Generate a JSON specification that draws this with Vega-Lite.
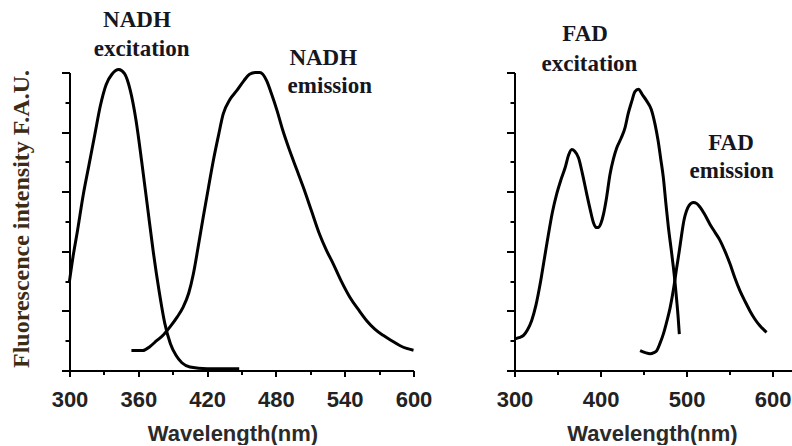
{
  "$schema": "https://vega.github.io/schema/vega-lite/v6.json",
  "padding": {"left": 8.5, "top": 8.5, "right": 0, "bottom": 0},
  "bounds": "flush",
  "spacing": 101,
  "background": "white",
  "config": {
    "view": {"stroke": null},
    "axis": {
      "domainColor": "#000",
      "domainWidth": 2,
      "tickColor": "#000",
      "tickWidth": 2,
      "grid": false,
      "labelFont": "Liberation Sans",
      "labelFontWeight": "bold",
      "labelFontSize": 22,
      "labelColor": "#222",
      "titleFont": "Liberation Sans",
      "titleFontWeight": "bold",
      "titleFontSize": 22,
      "titleColor": "#2a2a2a"
    },
    "text": {"font": "Liberation Serif", "fontWeight": "bold", "fontSize": 23, "color": "#16161f", "align": "center", "baseline": "middle"}
  },
  "datasets": {
    "nadh": [
      {"series": "NADH excitation", "w": 300, "v": 1.5},
      {"series": "NADH excitation", "w": 303, "v": 1.9},
      {"series": "NADH excitation", "w": 307, "v": 2.35},
      {"series": "NADH excitation", "w": 312, "v": 2.95},
      {"series": "NADH excitation", "w": 317, "v": 3.45},
      {"series": "NADH excitation", "w": 322, "v": 3.95},
      {"series": "NADH excitation", "w": 327, "v": 4.45},
      {"series": "NADH excitation", "w": 332, "v": 4.8},
      {"series": "NADH excitation", "w": 337, "v": 4.97},
      {"series": "NADH excitation", "w": 343, "v": 5.05},
      {"series": "NADH excitation", "w": 348, "v": 4.98},
      {"series": "NADH excitation", "w": 353, "v": 4.7},
      {"series": "NADH excitation", "w": 358, "v": 4.2},
      {"series": "NADH excitation", "w": 363, "v": 3.5},
      {"series": "NADH excitation", "w": 368, "v": 2.75},
      {"series": "NADH excitation", "w": 373, "v": 2.0},
      {"series": "NADH excitation", "w": 378, "v": 1.35},
      {"series": "NADH excitation", "w": 383, "v": 0.8},
      {"series": "NADH excitation", "w": 388, "v": 0.45},
      {"series": "NADH excitation", "w": 393, "v": 0.25},
      {"series": "NADH excitation", "w": 398, "v": 0.13},
      {"series": "NADH excitation", "w": 405, "v": 0.06},
      {"series": "NADH excitation", "w": 420, "v": 0.03},
      {"series": "NADH excitation", "w": 448, "v": 0.03},
      {"series": "NADH emission", "w": 354, "v": 0.335},
      {"series": "NADH emission", "w": 364, "v": 0.335},
      {"series": "NADH emission", "w": 370, "v": 0.4},
      {"series": "NADH emission", "w": 376, "v": 0.5},
      {"series": "NADH emission", "w": 382, "v": 0.6},
      {"series": "NADH emission", "w": 388, "v": 0.74},
      {"series": "NADH emission", "w": 394, "v": 0.9},
      {"series": "NADH emission", "w": 399, "v": 1.06},
      {"series": "NADH emission", "w": 404, "v": 1.3},
      {"series": "NADH emission", "w": 408, "v": 1.62},
      {"series": "NADH emission", "w": 412, "v": 2.05},
      {"series": "NADH emission", "w": 416.6, "v": 2.57},
      {"series": "NADH emission", "w": 421, "v": 3.05},
      {"series": "NADH emission", "w": 425.4, "v": 3.52},
      {"series": "NADH emission", "w": 430, "v": 3.95},
      {"series": "NADH emission", "w": 434, "v": 4.3},
      {"series": "NADH emission", "w": 440, "v": 4.55},
      {"series": "NADH emission", "w": 446, "v": 4.7},
      {"series": "NADH emission", "w": 452, "v": 4.86},
      {"series": "NADH emission", "w": 457, "v": 4.97},
      {"series": "NADH emission", "w": 462, "v": 5.0},
      {"series": "NADH emission", "w": 466, "v": 5.0},
      {"series": "NADH emission", "w": 472, "v": 4.86},
      {"series": "NADH emission", "w": 476, "v": 4.65},
      {"series": "NADH emission", "w": 481, "v": 4.36},
      {"series": "NADH emission", "w": 486, "v": 4.03},
      {"series": "NADH emission", "w": 492, "v": 3.69},
      {"series": "NADH emission", "w": 498, "v": 3.38},
      {"series": "NADH emission", "w": 504, "v": 3.07},
      {"series": "NADH emission", "w": 511, "v": 2.68},
      {"series": "NADH emission", "w": 518, "v": 2.29},
      {"series": "NADH emission", "w": 524, "v": 2.02},
      {"series": "NADH emission", "w": 530, "v": 1.79},
      {"series": "NADH emission", "w": 537, "v": 1.5},
      {"series": "NADH emission", "w": 544.5, "v": 1.23},
      {"series": "NADH emission", "w": 552, "v": 1.02},
      {"series": "NADH emission", "w": 559, "v": 0.84},
      {"series": "NADH emission", "w": 566, "v": 0.7},
      {"series": "NADH emission", "w": 573.5, "v": 0.59},
      {"series": "NADH emission", "w": 581, "v": 0.5},
      {"series": "NADH emission", "w": 588, "v": 0.42},
      {"series": "NADH emission", "w": 594, "v": 0.37},
      {"series": "NADH emission", "w": 600, "v": 0.34}
    ],
    "fad": [
      {"series": "FAD excitation", "w": 300.8, "v": 0.53},
      {"series": "FAD excitation", "w": 305, "v": 0.55},
      {"series": "FAD excitation", "w": 310.5, "v": 0.59},
      {"series": "FAD excitation", "w": 315, "v": 0.68},
      {"series": "FAD excitation", "w": 320, "v": 0.84},
      {"series": "FAD excitation", "w": 325, "v": 1.1},
      {"series": "FAD excitation", "w": 329.8, "v": 1.45},
      {"series": "FAD excitation", "w": 335, "v": 1.9},
      {"series": "FAD excitation", "w": 339.5, "v": 2.29},
      {"series": "FAD excitation", "w": 344, "v": 2.65},
      {"series": "FAD excitation", "w": 349, "v": 2.96},
      {"series": "FAD excitation", "w": 354, "v": 3.2},
      {"series": "FAD excitation", "w": 359, "v": 3.41},
      {"series": "FAD excitation", "w": 363, "v": 3.62},
      {"series": "FAD excitation", "w": 366.6, "v": 3.71},
      {"series": "FAD excitation", "w": 370, "v": 3.68},
      {"series": "FAD excitation", "w": 374.4, "v": 3.57},
      {"series": "FAD excitation", "w": 379, "v": 3.3},
      {"series": "FAD excitation", "w": 384, "v": 2.96},
      {"series": "FAD excitation", "w": 388, "v": 2.7},
      {"series": "FAD excitation", "w": 391.8, "v": 2.48},
      {"series": "FAD excitation", "w": 395, "v": 2.4},
      {"series": "FAD excitation", "w": 397.6, "v": 2.4},
      {"series": "FAD excitation", "w": 400.5, "v": 2.47},
      {"series": "FAD excitation", "w": 403.4, "v": 2.62},
      {"series": "FAD excitation", "w": 407, "v": 2.9},
      {"series": "FAD excitation", "w": 411, "v": 3.29},
      {"series": "FAD excitation", "w": 415, "v": 3.55},
      {"series": "FAD excitation", "w": 419, "v": 3.74},
      {"series": "FAD excitation", "w": 424, "v": 3.9},
      {"series": "FAD excitation", "w": 428.6, "v": 4.08},
      {"series": "FAD excitation", "w": 432, "v": 4.3},
      {"series": "FAD excitation", "w": 436.4, "v": 4.52},
      {"series": "FAD excitation", "w": 440, "v": 4.68},
      {"series": "FAD excitation", "w": 444, "v": 4.72},
      {"series": "FAD excitation", "w": 449, "v": 4.62},
      {"series": "FAD excitation", "w": 453.8, "v": 4.52},
      {"series": "FAD excitation", "w": 459, "v": 4.38},
      {"series": "FAD excitation", "w": 463.4, "v": 4.13},
      {"series": "FAD excitation", "w": 467, "v": 3.85},
      {"series": "FAD excitation", "w": 470, "v": 3.55},
      {"series": "FAD excitation", "w": 473, "v": 3.24},
      {"series": "FAD excitation", "w": 476, "v": 2.8},
      {"series": "FAD excitation", "w": 478.9, "v": 2.4},
      {"series": "FAD excitation", "w": 482, "v": 2.05},
      {"series": "FAD excitation", "w": 484.7, "v": 1.73},
      {"series": "FAD excitation", "w": 486.8, "v": 1.45},
      {"series": "FAD excitation", "w": 488.6, "v": 1.17},
      {"series": "FAD excitation", "w": 490.2, "v": 0.9},
      {"series": "FAD excitation", "w": 491.6, "v": 0.61},
      {"series": "FAD emission", "w": 446, "v": 0.335},
      {"series": "FAD emission", "w": 452, "v": 0.3},
      {"series": "FAD emission", "w": 457.6, "v": 0.28},
      {"series": "FAD emission", "w": 462, "v": 0.3},
      {"series": "FAD emission", "w": 465.4, "v": 0.335},
      {"series": "FAD emission", "w": 469, "v": 0.45},
      {"series": "FAD emission", "w": 473, "v": 0.61},
      {"series": "FAD emission", "w": 477, "v": 0.82},
      {"series": "FAD emission", "w": 481, "v": 1.06},
      {"series": "FAD emission", "w": 485, "v": 1.38},
      {"series": "FAD emission", "w": 488.6, "v": 1.73},
      {"series": "FAD emission", "w": 491.5, "v": 2.0},
      {"series": "FAD emission", "w": 494.4, "v": 2.29},
      {"series": "FAD emission", "w": 497, "v": 2.52},
      {"series": "FAD emission", "w": 500, "v": 2.68},
      {"series": "FAD emission", "w": 503, "v": 2.77},
      {"series": "FAD emission", "w": 507.9, "v": 2.82},
      {"series": "FAD emission", "w": 512, "v": 2.8},
      {"series": "FAD emission", "w": 515.7, "v": 2.74},
      {"series": "FAD emission", "w": 521, "v": 2.62},
      {"series": "FAD emission", "w": 527, "v": 2.46},
      {"series": "FAD emission", "w": 533, "v": 2.32},
      {"series": "FAD emission", "w": 539, "v": 2.18},
      {"series": "FAD emission", "w": 545, "v": 1.99},
      {"series": "FAD emission", "w": 550.5, "v": 1.79},
      {"series": "FAD emission", "w": 556, "v": 1.56},
      {"series": "FAD emission", "w": 562, "v": 1.34},
      {"series": "FAD emission", "w": 568, "v": 1.16},
      {"series": "FAD emission", "w": 573.7, "v": 1.0},
      {"series": "FAD emission", "w": 579.5, "v": 0.86},
      {"series": "FAD emission", "w": 585.3, "v": 0.75},
      {"series": "FAD emission", "w": 593, "v": 0.64}
    ],
    "nadhLabels": [
      {"label": "NADH", "w": 358.8, "v": 5.88},
      {"label": "excitation", "w": 362.9, "v": 5.39},
      {"label": "NADH", "w": 521.3, "v": 5.25},
      {"label": "emission", "w": 527, "v": 4.77}
    ],
    "fadLabels": [
      {"label": "FAD", "w": 382.1, "v": 5.64},
      {"label": "excitation", "w": 387.1, "v": 5.15},
      {"label": "FAD", "w": 551.7, "v": 3.82},
      {"label": "emission", "w": 552.5, "v": 3.35}
    ]
  },
  "hconcat": [
    {
      "width": 344,
      "height": 298,
      "layer": [
        {
          "data": {"name": "nadh"},
          "mark": {"type": "line", "color": "#000", "strokeWidth": 3, "interpolate": "monotone"},
          "encoding": {
            "x": {"field": "w", "type": "quantitative", "scale": {"domain": [300, 600], "nice": false, "zero": false},
              "axis": {"values": [300, 360, 420, 480, 540, 600], "tickSize": 6, "labelPadding": 13, "labelFlush": false,
                "title": "Wavelength(nm)", "titleX": 163, "titleY": 70, "titleBaseline": "alphabetic", "titleAlign": "center"}},
            "y": {"field": "v", "type": "quantitative", "scale": {"domain": [0, 5], "nice": false},
              "axis": {"values": [0, 1, 2, 3, 4, 5], "tickSize": 8, "labels": false,
                "title": "Fluorescence intensity F.A.U.", "titleFont": "Liberation Serif", "titleFontSize": 24, "titleColor": "#3d2b14",
                "titleAngle": 270, "titleX": -41.5, "titleY": 146, "titleBaseline": "alphabetic", "titleAlign": "center"}},
            "detail": {"field": "series"}
          }
        },
        {
          "data": {"name": "nadhLabels"},
          "mark": {"type": "text"},
          "encoding": {
            "x": {"field": "w", "type": "quantitative",
              "axis": {"orient": "bottom", "values": [330, 390, 450, 510, 570], "tickSize": 4, "labels": false, "domain": false, "title": null}},
            "y": {"field": "v", "type": "quantitative",
              "axis": {"orient": "left", "values": [0.5, 1.5, 2.5, 3.5, 4.5], "tickSize": 4.5, "labels": false, "domain": false, "title": null}},
            "text": {"field": "label"}
          }
        }
      ],
      "resolve": {"axis": {"x": "independent", "y": "independent"}}
    },
    {
      "width": 277,
      "height": 298,
      "layer": [
        {
          "data": {"name": "fad"},
          "mark": {"type": "line", "color": "#000", "strokeWidth": 3, "interpolate": "monotone"},
          "encoding": {
            "x": {"field": "w", "type": "quantitative", "scale": {"domain": [300, 622], "nice": false, "zero": false},
              "axis": {"values": [300, 400, 500, 600], "tickSize": 6, "labelPadding": 13, "labelFlush": false,
                "title": "Wavelength(nm)", "titleX": 137.4, "titleY": 70, "titleBaseline": "alphabetic", "titleAlign": "center"}},
            "y": {"field": "v", "type": "quantitative", "scale": {"domain": [0, 5], "nice": false},
              "axis": {"values": [0, 1, 2, 3, 4, 5], "tickSize": 8, "labels": false, "title": null}},
            "detail": {"field": "series"}
          }
        },
        {
          "data": {"name": "fadLabels"},
          "mark": {"type": "text"},
          "encoding": {
            "x": {"field": "w", "type": "quantitative",
              "axis": {"orient": "bottom", "values": [350, 450, 550], "tickSize": 4, "labels": false, "domain": false, "title": null}},
            "y": {"field": "v", "type": "quantitative",
              "axis": {"orient": "left", "values": [0.5, 1.5, 2.5, 3.5, 4.5], "tickSize": 4.5, "labels": false, "domain": false, "title": null}},
            "text": {"field": "label"}
          }
        }
      ],
      "resolve": {"axis": {"x": "independent", "y": "independent"}}
    }
  ]
}
